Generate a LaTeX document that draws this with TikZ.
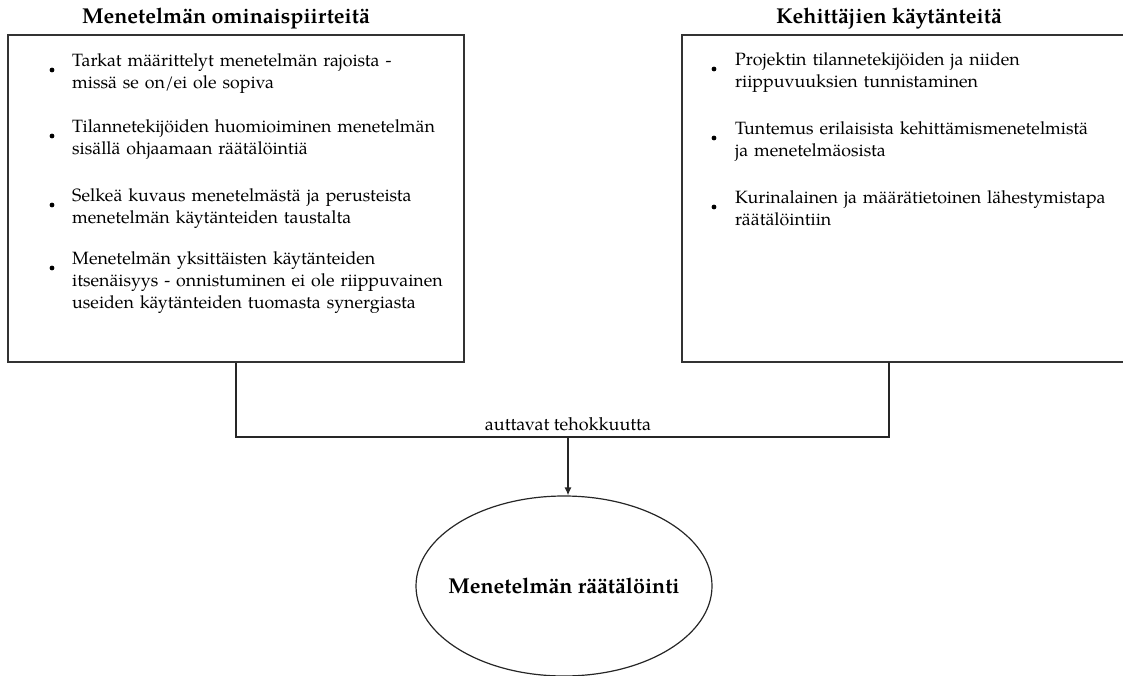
\documentclass[tikz,border=0pt]{standalone}
\usepackage{fontspec}
\setmainfont{TeX Gyre Pagella}
\usetikzlibrary{shapes.geometric,arrows.meta}
\begin{document}
\begin{tikzpicture}[x=1pt,y=-1pt,
  frame/.style={draw=black!80, line width=1.5pt, inner sep=0pt},
  link/.style={draw=black!85, line width=1.3pt},
  heading/.style={font=\fontsize{21.5}{25}\selectfont\bfseries, anchor=base, inner sep=0pt},
  entry/.style={font=\fontsize{17.8}{22}\selectfont, anchor=base west, inner sep=0pt,
                text width=430pt, align=left},
  dot/.style={circle, fill=black, inner sep=0pt, minimum size=4.8pt}
]
\useasboundingbox (0,0) rectangle (1123,676);
\clip (0,0) rectangle (1123,676);

% headings
\node[heading] (lhead) at (226,24) {Menetelmän ominaispiirteitä};
\node[heading] (rhead) at (889,24) {Kehittäjien käytänteitä};

% frames
\node[frame, minimum width=456pt, minimum height=327pt] (lbox) at (236,198.5) {};
\node[frame, minimum width=458pt, minimum height=327pt] (rbox) at (911,198.5) {};

% left list
\node[dot] (ld1) at (52,70) {};
\node[entry] (lt1) at (72,66.5) {Tarkat määrittelyt menetelmän rajoista -\\missä se on/ei ole sopiva};
\node[dot] (ld2) at (52,136) {};
\node[entry] (lt2) at (72,132.5) {Tilannetekijöiden huomioiminen menetelmän\\sisällä ohjaamaan räätälöintiä};
\node[dot] (ld3) at (52,205) {};
\node[entry] (lt3) at (72,201.5) {Selkeä kuvaus menetelmästä ja perusteista\\menetelmän käytänteiden taustalta};
\node[dot] (ld4) at (52,268) {};
\node[entry] (lt4) at (72,264.5) {Menetelmän yksittäisten käytänteiden\\itsenäisyys - onnistuminen ei ole riippuvainen\\useiden käytänteiden tuomasta synergiasta};

% right list
\node[dot] (rd1) at (714,69) {};
\node[entry] (rt1) at (735,65.5) {Projektin tilannetekijöiden ja niiden\\riippuvuuksien tunnistaminen};
\node[dot] (rd2) at (714,138) {};
\node[entry] (rt2) at (735,134.5) {Tuntemus erilaisista kehittämismenetelmistä\\ja menetelmäosista};
\node[dot] (rd3) at (714,207) {};
\node[entry] (rt3) at (735,203.5) {Kurinalainen ja määrätietoinen lähestymistapa\\räätälöintiin};

% goal (zero-width label so the outline keeps its own size)
\node[ellipse, draw=black!85, line width=1.2pt, minimum width=296pt, minimum height=180pt,
      inner sep=0pt, font=\fontsize{21.5}{25}\selectfont\bfseries] (goal) at (564,586)
      {\makebox[0pt]{Menetelmän räätälöinti}};

% connectors
\coordinate (join) at (568,437);
\coordinate (rfoot) at (889,362);
\draw[link] (lbox.south) |- (join) -| (rfoot);
\draw[link, -{Latex[length=8pt,width=7pt]}] (join) -- (goal.north -| join);
\node[anchor=base, inner sep=0pt, font=\fontsize{18}{21}\selectfont] (lbl) at (568,430) {auttavat tehokkuutta};
\end{tikzpicture}
\end{document}
